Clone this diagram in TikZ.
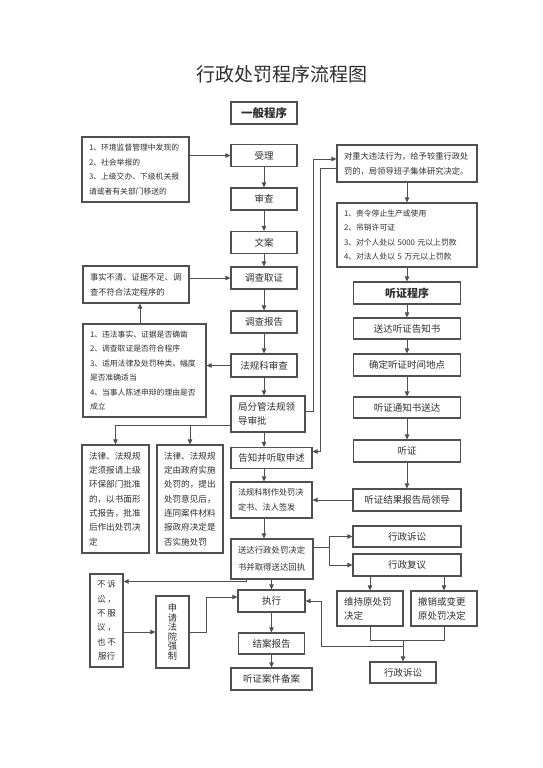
\documentclass[tikz,border=0pt]{standalone}
\usepackage{fontspec}
\setmainfont{Noto Sans CJK SC}
\usetikzlibrary{arrows.meta,positioning,calc}
\definecolor{LineGray}{HTML}{505050}
\definecolor{InkGray}{HTML}{2E2E2E}

\begin{document}
\begin{tikzpicture}[x=1pt,y=-1pt,
  every node/.style={font=\fontsize{9.5}{14}\selectfont,align=center,text=InkGray,inner sep=0pt},
  box/.style={draw=LineGray,line width=1.2pt,minimum width=66pt,minimum height=22pt},
  note/.style={box,align=left,inner xsep=7pt,font=\fontsize{7.8}{14.4}\selectfont},
  arr/.style={-{Triangle[length=5pt,width=4.5pt]},line width=1pt,color=LineGray},
  ln/.style={line width=1pt,color=LineGray}
]
\useasboundingbox (0,0) rectangle (543,768);
\node[font=\fontsize{19}{19}\selectfont] (title) at (281.5,74) {行政处罚程序流程图};
\node[box,font=\bfseries\fontsize{11.5}{12}\selectfont] (yiban) at (264,113) {一般程序};

% main column
\node[box] (shouli) at (264,155.5) {受理};
\node[box] (shencha) at (264,199) {审查};
\node[box] (wenan) at (264,242.5) {文案};
\node[box] (diaocha) at (264,278) {调查取证};
\node[box] (baogao) at (264,322) {调查报告};
\node[box,minimum height=23pt] (fagui) at (264,365.5) {法规科审查};
\node[note,font=\fontsize{9.5}{14}\selectfont,minimum width=74pt,minimum height=36pt,text width=60pt] (juling) at (268,414) {局分管法规领\\导审批};
\node[box,minimum width=81pt,minimum height=21pt] (gaozhi) at (271.5,458) {告知并听取申述};
\node[note,font=\fontsize{8.2}{15}\selectfont,minimum width=81pt,minimum height=36pt,text width=67pt] (zhizuo) at (271.5,500) {法规科制作处罚决\\定书、法人签发};
\node[note,font=\fontsize{8.4}{17}\selectfont,minimum width=82pt,minimum height=40pt,text width=68pt] (songda) at (272,559) {送达行政处罚决定\\书并取得送达回执};
\node[box,minimum width=67pt] (zhixing) at (271.5,601) {执行};
\node[box,minimum height=21pt] (jiean) at (271.5,643.5) {结案报告};
\node[box,minimum width=81pt] (beian) at (271.5,679) {听证案件备案};

% left side
\node[note,minimum width=107pt,minimum height=65pt,text width=93pt] (src) at (135.5,169.5) {1、环境监督管理中发现的\\2、社会举报的\\3、上级交办、下级机关报\\请或者有关部门移送的};
\node[note,font=\fontsize{8.3}{15}\selectfont,minimum width=106pt,minimum height=37pt,text width=92pt] (bucha) at (136,284.5) {事实不清、证据不足、调\\查不符合法定程序的};
\node[note,minimum width=123pt,minimum height=93pt,text width=109pt] (check) at (144.5,370.5) {1、违法事实、证据是否确凿\\2、调查取证是否符合程序\\3、适用法律及处罚种类、幅度\\是否准确适当\\4、当事人陈述申辩的理由是否\\成立};
\node[note,font=\fontsize{8.6}{14.3}\selectfont,minimum width=67pt,minimum height=108pt,text width=53pt] (lawA) at (115.5,499) {法律、法规规\\定须报请上级\\环保部门批准\\的，以书面形\\式报告，批准\\后作出处罚决\\定};
\node[note,font=\fontsize{8.6}{14.3}\selectfont,minimum width=66pt,minimum height=108pt,text width=52pt] (lawB) at (190,499) {法律、法规规\\定由政府实施\\处罚的，提出\\处罚意见后，\\连同案件材料\\报政府决定是\\否实施处罚};
\node[box,font=\fontsize{8.5}{14.4}\selectfont,minimum width=33pt,minimum height=93pt] (busu) at (106.5,620.5) {不\hspace{2pt}诉\\讼\hspace{2pt}，\\不\hspace{2pt}服\\议\hspace{2pt}，\\也\hspace{2pt}不\\服行};
\node[box,font=\fontsize{9.2}{9.6}\selectfont,minimum width=33pt,minimum height=72pt] (shenqing) at (172.5,632) {申\\请\\法\\院\\强\\制};

% right side
\node[note,font=\fontsize{8.3}{15}\selectfont,minimum width=140pt,minimum height=37pt,text width=126pt] (zhongda) at (407,163.5) {对重大违法行为，给予较重行政处\\罚的，局领导班子集体研究决定。};
\node[note,minimum width=140pt,minimum height=64pt,text width=126pt] (list) at (407,235) {1、责令停止生产或使用\\2、吊销许可证\\3、对个人处以 5000 元以上罚款\\4、对法人处以 5 万元以上罚款};
\node[box,font=\bfseries\fontsize{11}{12}\selectfont,minimum width=107pt] (tzcx) at (407,293) {听证程序};
\node[box,minimum width=107pt,minimum height=21pt] (tz1) at (407,328.5) {送达听证告知书};
\node[box,minimum width=107pt] (tz2) at (407,365) {确定听证时间地点};
\node[box,minimum width=107pt,minimum height=21pt] (tz3) at (407,407.5) {听证通知书送达};
\node[box,minimum width=107pt] (tz4) at (407,451) {听证};
\node[box,minimum width=108pt] (tz5) at (407,500) {听证结果报告局领导};
\node[box,minimum width=108pt,minimum height=21pt] (susong) at (407,536.5) {行政诉讼};
\node[box,minimum width=108pt] (fuyi) at (407,565) {行政复议};
\node[note,font=\fontsize{9.5}{14}\selectfont,minimum width=66pt,minimum height=35pt,text width=52pt] (weichi) at (370,608.5) {维持原处罚\\决定};
\node[note,font=\fontsize{9.5}{14}\selectfont,minimum width=66pt,minimum height=35pt,text width=52pt] (chexiao) at (444,608.5) {撤销或变更\\原处罚决定};
\node[box,minimum height=21pt] (susong2) at (403,672.5) {行政诉讼};

% main flow
\draw[arr] (src.east |- shouli) -- (shouli.west);
\draw[arr] (shouli) -- (shencha);
\draw[arr] (shencha) -- (wenan);
\draw[arr] (wenan) -- (diaocha);
\draw[arr] (diaocha) -- (baogao);
\draw[arr] (baogao) -- (fagui);
\draw[arr] (fagui.south) -- (fagui.south |- juling.north);
\draw[arr] (fagui.south |- juling.south) -- (fagui.south |- gaozhi.north);
\draw[arr] (fagui.south |- gaozhi.south) -- (fagui.south |- zhizuo.north);
\draw[arr] (fagui.south |- zhizuo.south) -- (fagui.south |- songda.north);
\draw[arr] (zhixing.north |- songda.south) -- (zhixing.north);
\draw[arr] (zhixing) -- (jiean);
\draw[arr] (jiean) -- (beian);

% check loop
\coordinate (up) at ($(check.north)+(-4.5,0)$);
\draw[arr] (fagui.west) -- (check.east |- fagui);
\draw[arr] (up) -- (up |- bucha.south);
\draw[arr] (bucha.east |- diaocha) -- (diaocha.west);

% approval branches
\coordinate (split) at ($(juling.south west)+(0,-7)$);
\draw[arr] (split) -| (lawA.north);
\draw[arr] (lawB.north |- split) -- (lawB.north);
\draw[arr] ($(juling.east)+(0,-3)$) -- ++(8,0) |- ($(zhongda.west)+(0,-4.5)$);
\draw[arr] ($(zhongda.west)+(0,4.5)$) -- ++(-16,0) |- ($(gaozhi.east)+(0,-6.5)$);

% hearing
\draw[arr] (zhongda) -- (list);
\draw[arr] (list) -- (tzcx);
\draw[arr] (tzcx) -- (tz1);
\draw[arr] (tz1) -- (tz2);
\draw[arr] (tz2) -- (tz3);
\draw[arr] (tz3) -- (tz4);
\draw[arr] (tz4) -- (tz5);
\draw[arr] (tz5.west) -- (zhizuo.east |- tz5);

% remedies
\coordinate (fork) at ($(songda.east)+(16,-12)$);
\draw[ln] ($(songda.east)+(0,-12)$) -- (fork);
\draw[arr] (fork) |- (susong.west);
\draw[arr] (fork) |- (fuyi.west);
\draw[arr] (weichi.north |- fuyi.south) -- (weichi.north);
\draw[arr] (chexiao.north |- fuyi.south) -- (chexiao.north);
\coordinate (merge) at ($(weichi.south)+(0,14)$);
\draw[ln] (weichi.south) -- (merge) -| (chexiao.south);
\draw[arr] (merge -| susong2.north) -- (susong2.north);
\draw[arr] ($(susong2.north)+(0,-15)$) -- ++(-82,0) |- (zhixing.east);

% enforcement
\draw[arr] ($(songda.south west)+(16,0)$) |- ($(busu.north east)+(0,8)$);
\draw[arr] (busu.east |- shenqing) -- (shenqing.west);
\draw[arr] (shenqing.east) -- ++(17,0) |- ($(zhixing.west)+(0,-4)$);
\end{tikzpicture}
\end{document}
